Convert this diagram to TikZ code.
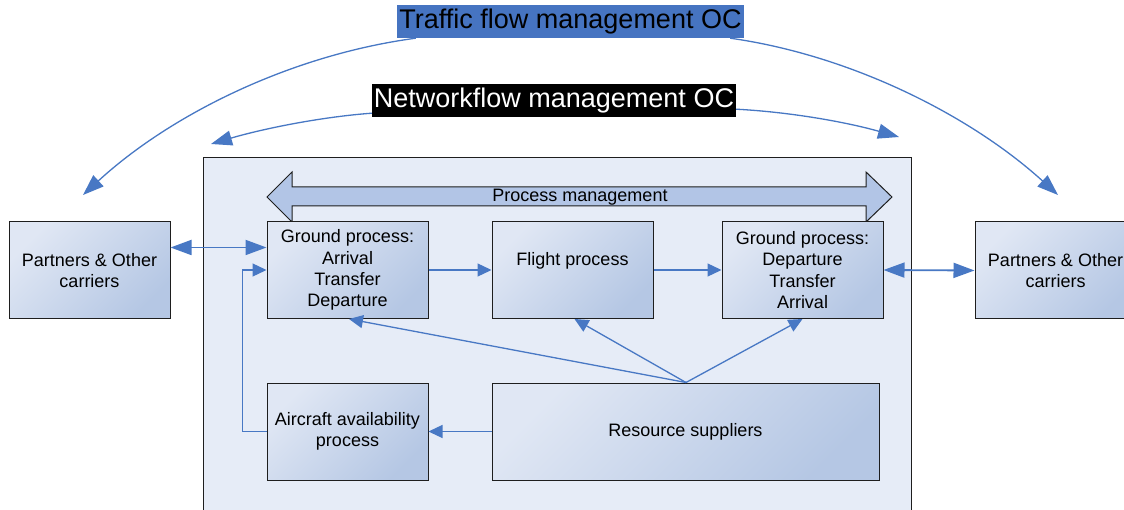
\documentclass[tikz,border=0pt]{standalone}
\usepackage{fontspec}
\setmainfont{Liberation Sans}
\usetikzlibrary{arrows.meta}

\definecolor{flowblue}{RGB}{72,120,196}
\definecolor{labelblue}{RGB}{70,116,193}
\definecolor{panel}{RGB}{230,236,247}
\definecolor{boxlight}{RGB}{224,231,244}
\definecolor{boxmid}{RGB}{196,210,234}
\definecolor{boxdark}{RGB}{181,199,228}
\definecolor{bandfill}{RGB}{178,197,230}
\definecolor{edge}{RGB}{30,30,30}

\tikzset{
  proc/.style={draw=edge, line width=1pt, top color=boxlight, middle color=boxmid,
    bottom color=boxdark, shading angle=45, minimum width=161pt, minimum height=97pt,
    inner sep=0pt, align=center, font=\fontsize{18}{21.3}\selectfont},
  oclabel/.style={inner sep=0pt, minimum height=33pt, font=\fontsize{27}{30}\selectfont},
  smalltip/.tip={Triangle[length=14pt,width=13pt]},
  bigtip/.tip={Triangle[length=21pt,width=15pt]},
  conn/.style={draw=flowblue, line width=1.3pt, -smalltip},
  bigconn/.style={draw=flowblue, line width=1.3pt, -bigtip},
  dconn/.style={draw=flowblue, line width=1.8pt, bigtip-bigtip}
}

\begin{document}
\begin{tikzpicture}[x=1pt,y=-1pt]
\clip (0,0) rectangle (1124,510);
\fill[white] (0,0) rectangle (1124,510);

% airline operations panel
\draw[fill=panel, draw=edge, line width=1pt] (203,158) rectangle (911,540);

% process management band (double-headed block arrow)
\draw[fill=bandfill, draw=edge, line width=1pt]
  (267,197) -- (292,172) -- (292,187) -- (866,187) -- (866,172) -- (892,197)
  -- (866,222) -- (866,206) -- (292,206) -- (292,222) -- cycle;
\node[font=\fontsize{18}{21.3}\selectfont, inner sep=0pt] (pm) at (580,197.5) {Process management};

% process boxes
\node[proc] (pl) at (89.5,270.5) {Partners \& Other\\carriers};
\node[proc] (gl) at (347.5,270) {Ground process:\\Arrival\\Transfer\\Departure};
\node[proc] (fl) at (572.5,270) {Flight process\\\mbox{}};
\node[proc] (gr) at (802.5,270) {Ground process:\\Departure\\Transfer\\Arrival};
\node[proc] (pr) at (1055.5,270.5) {Partners \& Other\\carriers};
\node[proc] (ac) at (347.5,431.5) {Aircraft availability\\process};
\node[proc, minimum width=387pt] (rs) at (685.5,431.5) {Resource suppliers};

% operational control labels
\node[oclabel, fill=labelblue, text=black, minimum width=347pt] (tf) at (570.5,21.5)
  {Traffic flow management OC};
\node[oclabel, fill=black, text=white, minimum width=364pt] (nf) at (554,100.5)
  {Networkflow management OC};

% free ends of the control arrows
\coordinate (tfL) at (83,195);
\coordinate (tfR) at (1058,195);
\coordinate (nfL) at (211,144);
\coordinate (nfR) at (899,137);

\draw[bigconn] ([xshift=19pt]tf.south west) .. controls (290,55) and (170,115) .. (tfL);
\draw[bigconn] ([xshift=-14pt]tf.south east) .. controls (850,55) and (970,115) .. (tfR);
\draw[bigconn] ([yshift=4pt]nf.south west) .. controls (320,117) and (262,129) .. (nfL);
\draw[bigconn] ([yshift=8pt]nf.south east) .. controls (790,112) and (846,122) .. (nfR);

% process flow connectors
\draw[dconn] ([yshift=23pt]pl.east) -- ([yshift=22.5pt]gl.west);
\draw[conn] (gl.east) -- (fl.west);
\draw[conn] (fl.east) -- (gr.west);
\draw[dconn] (gr.east) -- (pr.west);
\draw[conn] (rs.west) -- (ac.east);
\draw[conn] (ac.west) -- ++(-24,0) |- (gl.west);
\coordinate (rsTop) at ([xshift=0.5pt]rs.north);
\draw[conn] (rsTop) -- ([xshift=1.5pt]gl.south);
\draw[conn] (rsTop) -- ([xshift=2pt]fl.south);
\draw[conn] (rsTop) -- (gr.south);
\end{tikzpicture}
\end{document}
